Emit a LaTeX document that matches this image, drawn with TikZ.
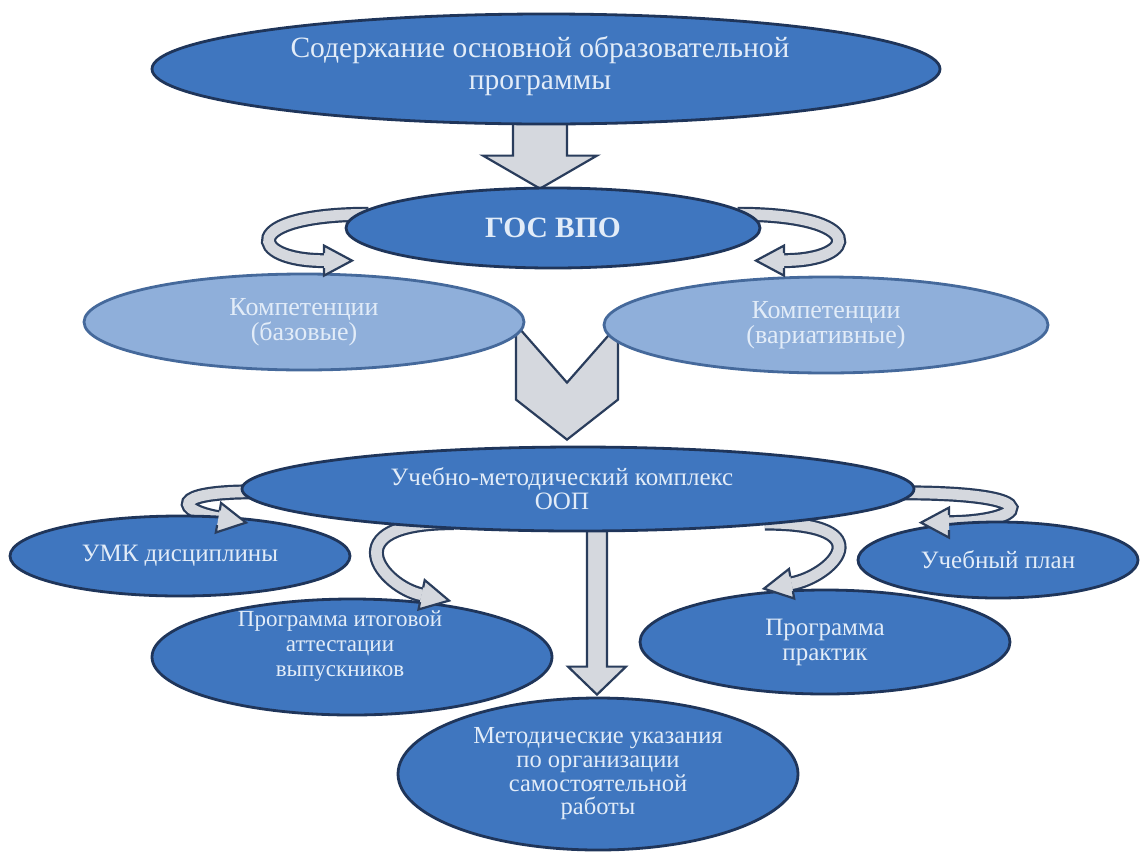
\documentclass[tikz,border=0pt]{standalone}
\usepackage{fontspec}
\setmainfont{Liberation Serif}
\usetikzlibrary{shapes.geometric,calc}
\pgfdeclarelayer{bg}
\pgfsetlayers{bg,main}
\definecolor{ellfill}{HTML}{3F76BF}
\definecolor{ellline}{HTML}{1F355A}
\definecolor{lightfill}{HTML}{8FAFDA}
\definecolor{lightline}{HTML}{45699B}
\definecolor{arrfill}{HTML}{D5D8DE}
\definecolor{arrline}{HTML}{2A3D5C}
\definecolor{txtc}{HTML}{E2ECF8}
\tikzset{
 ell/.style={ellipse, draw=ellline, line width=2.8pt, fill=ellfill, inner sep=0pt, text=txtc, align=center, font=\fontsize{25}{25}\selectfont},
 lell/.style={ell, draw=lightline, fill=lightfill},
 txt/.style={text=txtc, align=center, font=\fontsize{25}{25}\selectfont},
 blockarrow/.style={fill=arrfill, draw=arrline, line width=2.2pt, line join=miter},
 band/.style={draw=arrfill, line width=10.6pt, preaction={draw=arrline, line width=15pt}},
 uhead/.pic={\fill[arrfill] (0,0) -- (-28,15) -- (-28,-15) -- cycle;
   \draw[arrline, line width=2.2pt, line join=miter] (-28,7.5) -- (-28,15) -- (0,0) -- (-28,-15) -- (-28,-7.5);},
}
\begin{document}
\begin{tikzpicture}[x=1pt,y=-1pt]
\useasboundingbox (0,0) rectangle (1140,852);
% ellipses
\node[ell, minimum width=788pt, minimum height=110pt, font=\fontsize{29.5}{32}\selectfont] (top) at (546,69) {};
\node[txt, font=\fontsize{29.5}{32}\selectfont] (toptext) at ($(top.center)+(-6,-3)$) {Содержание основной образовательной\\программы};
\node[ell, minimum width=414pt, minimum height=80pt, font=\bfseries\fontsize{29.5}{32}\selectfont] (gos) at (553,228) {ГОС ВПО};
\node[lell, minimum width=440pt, minimum height=96pt, font=\fontsize{26}{24.5}\selectfont] (kb) at (304,322) {Компетенции\\(базовые)};
\node[lell, minimum width=444pt, minimum height=96pt, font=\fontsize{26}{24.5}\selectfont] (kv) at (826,325) {Компетенции\\(вариативные)};
\node[ell, minimum width=672pt, minimum height=84pt] (ump) at (578,489) {};
\node[txt, font=\fontsize{25}{24}\selectfont] (umptext) at ($(ump.center)+(-16,0)$) {Учебно-методический комплекс\\ООП};
\node[ell, minimum width=340pt, minimum height=80pt] (umkd) at (180,556) {УМК дисциплины};
\node[ell, minimum width=280pt, minimum height=76pt] (plan) at (998,560) {Учебный план};
\node[ell, minimum width=400pt, minimum height=116pt] (pit) at (352,657) {};
\node[txt, font=\fontsize{23}{25}\selectfont] (pittext) at ($(pit.center)+(-12,-11)$) {Программа итоговой\\аттестации\\выпускников};
\node[ell, minimum width=370pt, minimum height=104pt] (prak) at (825,642) {Программа\\практик};
\node[ell, minimum width=400pt, minimum height=152pt, font=\fontsize{24.5}{23.7}\selectfont] (met) at (598,774) {Методические указания\\по организации\\самостоятельной\\работы};
% arrow tips and bases
\coordinate (t1) at ($(kb.north)+(48,-12)$);
\coordinate (t2) at ($(kv.north)+(-70,-15)$);
\coordinate (t3) at ($(umkd.north)+(66,8)$);
\coordinate (t4) at ($(pit.north)+(97,3)$);
\coordinate (t5) at ($(prak.north)+(-61,0)$);
\coordinate (t6) at ($(plan.north)+(-77,2)$);
\coordinate (b1) at ($(t1)+(-28,0)$);
\coordinate (b2) at ($(t2)+(28,0)$);
\coordinate (b3) at ($(t3)+(-27.6,-4.9)$);
\coordinate (b4) at ($(t4)+(-27.4,-5.8)$);
\coordinate (b5) at ($(t5)+(27.6,-4.9)$);
\coordinate (b6) at ($(t6)+(28,0)$);
\coordinate (tA) at ($(gos.north)+(-13,2)$);
\coordinate (tC) at ($(ump.north)+(-11,-6)$);
\coordinate (tB) at ($(met.north)+(-1,-2)$);
\begin{pgfonlayer}{bg}
\fill[white] (0,0) rectangle (1140,852);
% block arrows
\draw[blockarrow] (tA) -- ++(-57,-33) -- ++(30,0) -- ++(0,-45) -- ++(54,0) -- ++(0,45) -- ++(30,0) -- cycle;
\draw[blockarrow] (tC) -- ++(-51,-40) -- ++(0,-75) -- ++(51,58) -- ++(51,-58) -- ++(0,75) -- cycle;
\draw[blockarrow] (tB) -- ++(-29,-28) -- ++(19,0) -- ++(0,-150) -- ++(20,0) -- ++(0,150) -- ++(19,0) -- cycle;
% curved bands
\draw[band] ($(gos.176)+(12,0)$) .. controls +(-130,0) and +(-76,0) .. (b1);
\draw[band] ($(gos.4)+(-12,0)$) .. controls +(130,0) and +(76,0) .. (b2);
\draw[band] ($(ump.181)+(10,-3)$) .. controls +(-86,0) and +(-40,-7) .. (b3);
\draw[band] ($(ump.196)+(14,-6)$) .. controls +(-124,0) and +(-39,-8) .. (b4);
\draw[band] ($(ump.-10)+(-12,-1)$) .. controls +(122,0) and +(39,-7) .. (b5);
\draw[band] ($(ump.-1)+(-10,-2)$) .. controls +(155,0) and +(72,0) .. (b6);
\end{pgfonlayer}
% arrow heads
\pic[rotate=0] at (t1) {uhead};
\pic[rotate=180] at (t2) {uhead};
\pic[rotate=-10] at (t3) {uhead};
\pic[rotate=-12] at (t4) {uhead};
\pic[rotate=190] at (t5) {uhead};
\pic[rotate=180] at (t6) {uhead};
\end{tikzpicture}
\end{document}
